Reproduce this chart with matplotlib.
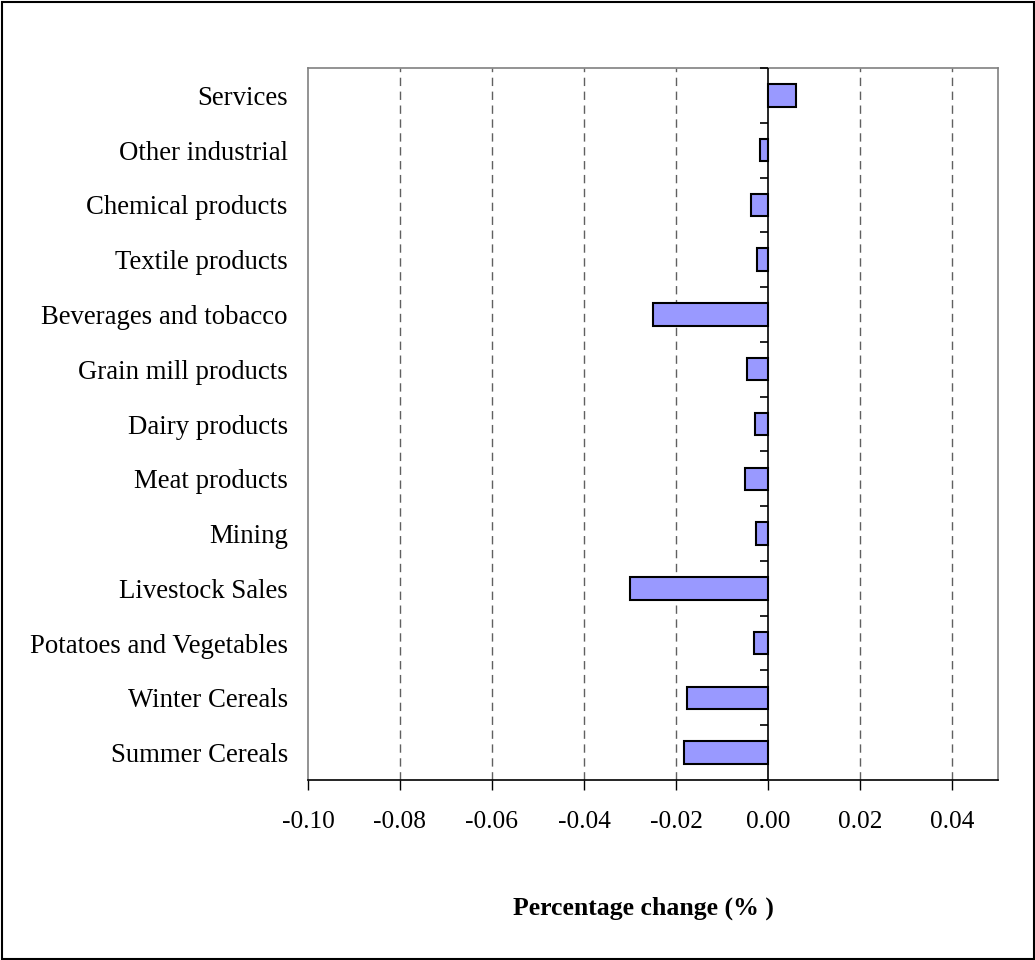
import matplotlib
matplotlib.use("Agg")
import matplotlib.pyplot as plt
from matplotlib.patches import Rectangle

# sectors, bottom to top as drawn
sectors = [
    "Summer Cereals", "Winter Cereals", "Potatoes and Vegetables",
    "Livestock Sales", "Mining", "Meat products", "Dairy products",
    "Grain mill products", "Beverages and tobacco", "Textile products",
    "Chemical products", "Other industrial", "Services",
]
pct_change = [
    -0.0183, -0.0175, -0.0031,
    -0.0301, -0.0027, -0.0049, -0.0028,
    -0.0045, -0.0250, -0.0023,
    -0.0036, -0.0018, 0.0061,
]
x_ticks = [-0.10, -0.08, -0.06, -0.04, -0.02, 0.00, 0.02, 0.04]

plt.rcParams["font.family"] = ["Liberation Serif", "DejaVu Serif"]

W, H = 1035, 960
fig = plt.figure(figsize=(W / 100, H / 100), dpi=100)
ax = fig.add_axes([308 / W, 1 - 780 / H, 690 / W, 712 / H])

pos = list(range(len(sectors)))
ax.barh(pos, pct_change, height=0.41, color="#9999FF",
        edgecolor="black", linewidth=1.5, zorder=3)

ax.set_xlim(-0.10, 0.05)
ax.set_ylim(-0.5, len(sectors) - 0.5)
ax.set_xticks(x_ticks)
ax.set_xticklabels([f"{v:.2f}" for v in x_ticks], fontsize=18.3)
ax.set_yticks(pos)
ax.set_yticklabels(sectors, fontsize=19.3)
ax.tick_params(axis="y", length=0, pad=14.5)
ax.tick_params(axis="x", direction="out", length=7, width=1,
               color="black", pad=15)

# dashed vertical gridlines
for v in x_ticks:
    if v not in (-0.10, 0.0):
        ax.axvline(v, color="#606060", lw=1, ls=(0, (6, 4)), zorder=1)

for side in ("top", "right", "left"):
    ax.spines[side].set_color("#808080")
    ax.spines[side].set_linewidth(1.2)
ax.spines["bottom"].set_color("black")
ax.spines["bottom"].set_linewidth(1.2)

# category axis crossing at zero, with ticks between categories
ax.axvline(0, color="black", lw=1.2, zorder=4)
tick_len = 8 / 690 * 0.15
ax.hlines([k - 0.5 for k in range(len(sectors) + 1)], -tick_len, 0,
          color="black", lw=1.2, zorder=4, clip_on=False)

fig.text(643 / W, 1 - 908 / H, "Percentage change (% )", fontsize=18.5,
         fontweight="bold", ha="center", va="center")

fig.patches.append(Rectangle((1.5 / W, 1.5 / H), 1 - 3 / W, 1 - 3 / H,
                             transform=fig.transFigure, fill=False,
                             edgecolor="black", linewidth=1.5))

fig.savefig("out.png", dpi=100)
